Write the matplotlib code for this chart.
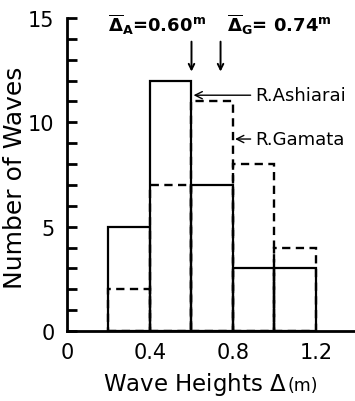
import matplotlib
matplotlib.use("Agg")
import matplotlib.pyplot as plt

plt.rcParams['font.family'] = ['DejaVu Sans']
plt.rcParams['mathtext.fontset'] = 'dejavusans'

bin_edges = [0.2, 0.4, 0.6, 0.8, 1.0]
bin_width = 0.2
ashiarai = [5, 12, 7, 3, 3]
gamata = [2, 7, 11, 8, 4]
mean_a = 0.60
mean_g = 0.74
xticks = [0, 0.4, 0.8, 1.2]
xtick_labels = ['0', '0.4', '0.8', '1.2']
yticks_major = [0, 5, 10, 15]

W, H = 355, 402
fig = plt.figure(figsize=(W/100, H/100), dpi=100)
ax = fig.add_axes([67/W, 1-332/H, 1-67/W, 313/H])

ax.bar(bin_edges, gamata, width=bin_width, align='edge', fill=False,
       edgecolor='black', linewidth=1.7, linestyle=(0, (3.5, 2.3)), zorder=2)
ax.bar(bin_edges, ashiarai, width=bin_width, align='edge', fill=False,
       edgecolor='black', linewidth=1.6, zorder=3)

ax.set_xlim(0, 1.388)
ax.set_ylim(0, 15)
ax.spines['top'].set_visible(False)
ax.spines['right'].set_visible(False)
ax.spines['left'].set_linewidth(2)
ax.spines['bottom'].set_linewidth(2)
ax.set_xticks(xticks)
ax.set_xticklabels(xtick_labels, fontsize=15)
ax.tick_params(axis='x', length=0, pad=8)
ax.set_yticks(yticks_major)
ax.set_yticks(range(0, 16), minor=True)
ax.tick_params(axis='y', which='both', direction='in', length=7, width=2, labelsize=15, pad=9)

fig.text(15/W, 1-178/H, 'Number of Waves', fontsize=18, rotation=90,
         ha='center', va='center')

# x label in two pieces: main text and smaller unit
t1 = fig.text(103/W, 1-385/H, r'Wave Heights $\Delta$', fontsize=16.5,
              ha='left', va='center')
fig.canvas.draw()
bb = t1.get_window_extent()
fig.text((bb.x1 + 1)/W, 1-386/H, '(m)', fontsize=12.5, ha='left', va='center')

# mean arrows
for m in (mean_a, mean_g):
    ax.annotate('', xy=(m, 12.3), xytext=(m, 14.0),
                arrowprops=dict(arrowstyle='->', color='black', lw=1.4))

ax.text(0.20, 14.7, r'$\overline{\mathbf{\Delta}}_{\mathbf{A}}$=0.60$^{\mathbf{m}}$',
        fontsize=13, fontweight='bold', va='center', ha='left')
ax.text(0.77, 14.7, r'$\overline{\mathbf{\Delta}}_{\mathbf{G}}$= 0.74$^{\mathbf{m}}$',
        fontsize=13, fontweight='bold', va='center', ha='left')

ax.annotate('R.Ashiarai', xy=(0.61, 11.3), xytext=(0.905, 11.3),
            fontsize=13, va='center', ha='left',
            arrowprops=dict(arrowstyle='->', color='black', lw=1.0, shrinkA=1, shrinkB=0))
ax.annotate('R.Gamata', xy=(0.81, 9.2), xytext=(0.905, 9.2),
            fontsize=13, va='center', ha='left',
            arrowprops=dict(arrowstyle='->', color='black', lw=1.0, shrinkA=1, shrinkB=0))

fig.savefig('out.png', dpi=100)
